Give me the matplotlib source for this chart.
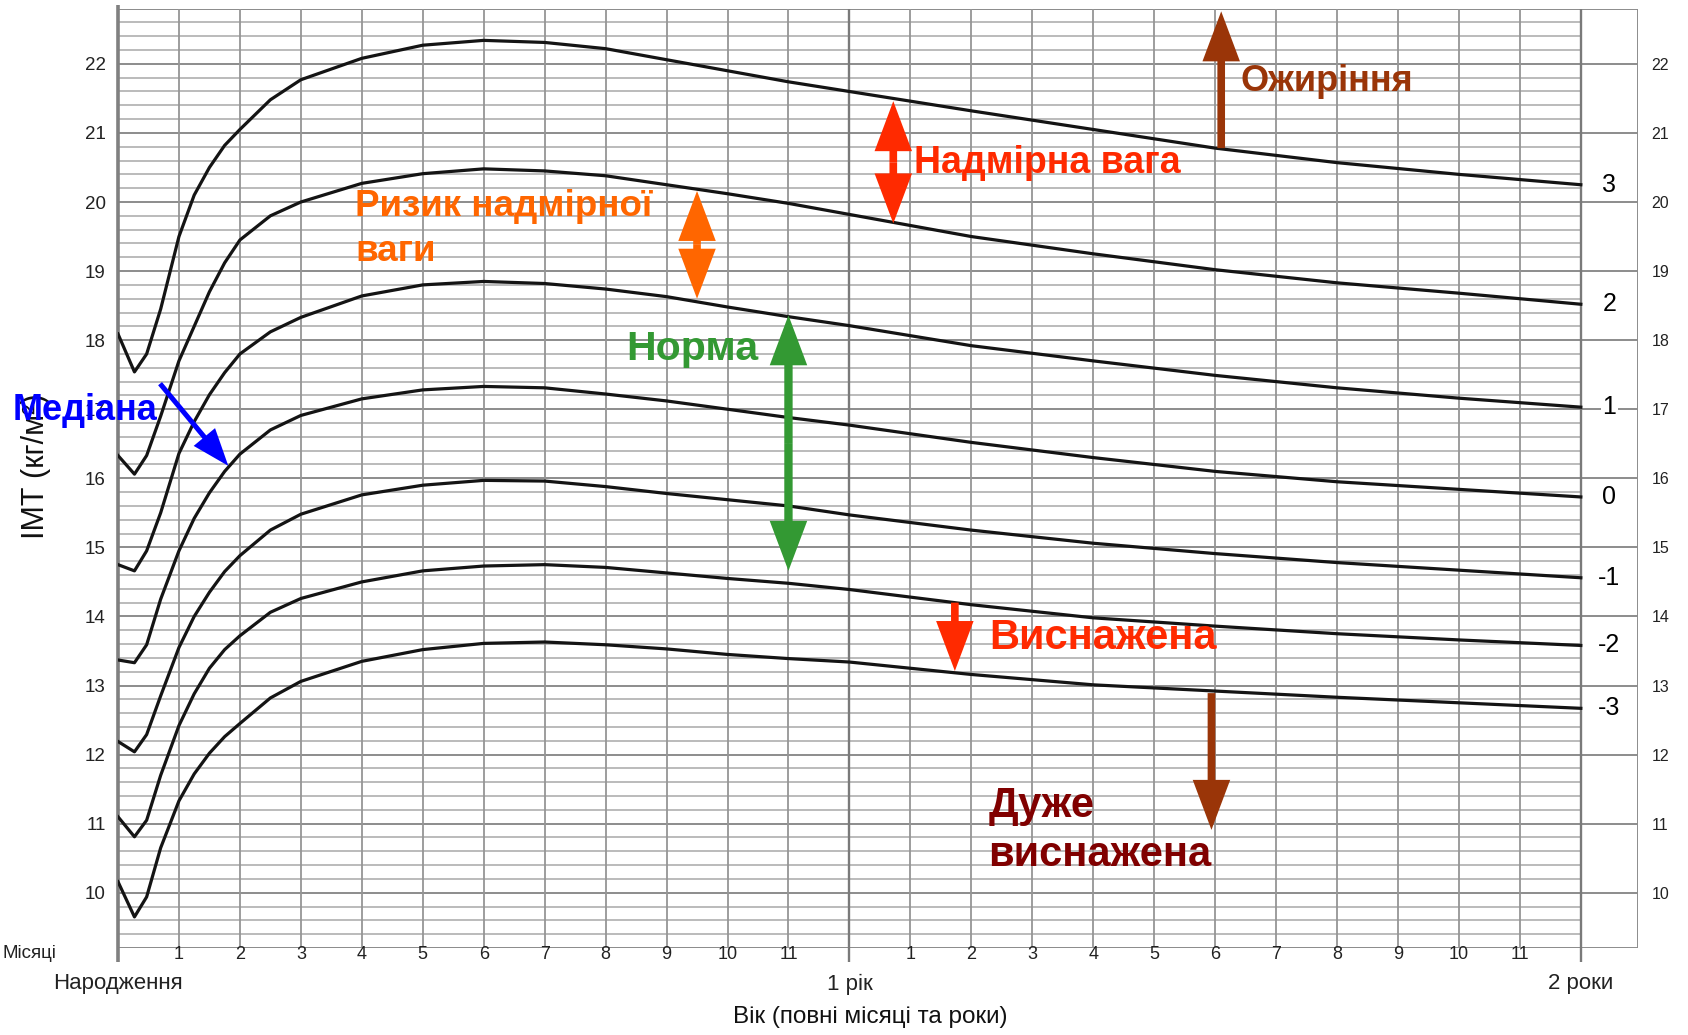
import matplotlib.pyplot as plt
from matplotlib.transforms import blended_transform_factory

plt.rcParams['font.family'] = ['Liberation Sans', 'DejaVu Sans']

# вік у місяцях, у яких знято значення кривих
months = [0, 0.27, 0.47, 0.7, 1, 1.25, 1.5, 1.75, 2, 2.5, 3, 4, 5, 6, 7, 8, 9, 10, 11, 12,
          14, 16, 18, 20, 22, 24]

# ІМТ (кг/м²) для кривих z-score
sd3 = [18.09, 17.54, 17.8, 18.45, 19.5, 20.1, 20.5, 20.82, 21.05, 21.48, 21.77, 22.08, 22.27,
       22.34, 22.31, 22.22, 22.06, 21.9, 21.74, 21.6, 21.32, 21.05, 20.78, 20.57, 20.4, 20.25]
sd2 = [16.33, 16.06, 16.33, 16.9, 17.7, 18.2, 18.7, 19.12, 19.45, 19.8, 20.0, 20.27, 20.41,
       20.48, 20.45, 20.38, 20.25, 20.12, 19.98, 19.82, 19.5, 19.25, 19.02, 18.83, 18.68, 18.52]
sd1 = [14.75, 14.66, 14.95, 15.5, 16.36, 16.82, 17.21, 17.53, 17.8, 18.12, 18.33, 18.64, 18.8,
       18.85, 18.82, 18.74, 18.63, 18.48, 18.34, 18.21, 17.92, 17.7, 17.49, 17.31, 17.16, 17.03]
sd0 = [13.37, 13.33, 13.59, 14.25, 14.95, 15.42, 15.79, 16.1, 16.35, 16.7, 16.91, 17.15, 17.28,
       17.33, 17.31, 17.22, 17.12, 17.0, 16.88, 16.77, 16.52, 16.3, 16.1, 15.95, 15.84, 15.73]
sdm1 = [12.19, 12.04, 12.29, 12.85, 13.55, 14.0, 14.35, 14.65, 14.88, 15.25, 15.48, 15.76, 15.9,
        15.97, 15.96, 15.88, 15.78, 15.69, 15.6, 15.47, 15.25, 15.06, 14.91, 14.78, 14.67, 14.56]
sdm2 = [11.1, 10.81, 11.05, 11.7, 12.42, 12.88, 13.25, 13.52, 13.72, 14.06, 14.26, 14.5, 14.66,
        14.73, 14.75, 14.71, 14.63, 14.55, 14.48, 14.39, 14.17, 13.98, 13.86, 13.75, 13.66, 13.58]
sdm3 = [10.16, 9.65, 9.94, 10.65, 11.33, 11.72, 12.02, 12.26, 12.45, 12.82, 13.06, 13.35, 13.52,
        13.61, 13.63, 13.59, 13.53, 13.45, 13.39, 13.34, 13.16, 13.01, 12.92, 12.83, 12.75, 12.67]

curves = [sd3, sd2, sd1, sd0, sdm1, sdm2, sdm3]
z_labels = ['3', '2', '1', '0', '-1', '-2', '-3']

bmi_ticks = list(range(10, 23))
month_ticks = [m for m in range(1, 24) if m != 12]
month_labels = [str(m % 12) for m in month_ticks]
year_ticks = [0, 12, 24]
year_labels = ['Народження', '1 рік', '2 роки']

W, H = 1688, 1035
fig = plt.figure(figsize=(W / 100, H / 100), dpi=100)
ax = fig.add_axes([118 / W, 1 - 948 / H, (1637.5 - 118) / W, (948 - 8.6) / H])
x_max, y_min, y_max = 24.93, 9.2, 22.8
ax.set_xlim(0, x_max)
ax.set_ylim(y_min, y_max)
for s in ax.spines.values():
    s.set_visible(False)
ax.set_xticks([])

# сітка
minor = [round(y_min + 0.2 * i, 1) for i in range(69)]
minor = [v for v in minor if abs(v - round(v)) > 0.01]
ax.hlines(minor, 0, 24, color='#a8a8a8', lw=1.1, zorder=1)
ax.hlines(bmi_ticks + [y_min, y_max], 0, x_max, color='#8c8c8c', lw=1.4, zorder=1)
ax.vlines([m for m in range(1, 24) if m != 12], y_min, y_max, color='#959595', lw=1.3, zorder=1)
ax.vlines([12, 24], y_min - 0.2, y_max, color='#7a7a7a', lw=1.7, zorder=1, clip_on=False)
ax.vlines([0], y_min - 0.2, y_max + 0.05, color='#808080', lw=2.6, zorder=2, clip_on=False)
ax.vlines([x_max], y_min, y_max, color='#8c8c8c', lw=1.4, zorder=1)

# криві
for vals, z in zip(curves, z_labels):
    ax.plot(months, vals, color='#141414', lw=2.3, zorder=3, solid_joinstyle='round')
    ax.text(24.47, vals[-1], z, fontsize=18, ha='center', va='center', zorder=4,
            bbox=dict(facecolor='white', edgecolor='none', pad=1.5))

# підписи осей
ax.set_yticks(bmi_ticks)
ax.tick_params(axis='y', length=0, pad=9, labelsize=13.5, labelcolor='#222222')
ax2 = ax.twinx()
ax2.set_ylim(y_min, y_max)
ax2.set_yticks(bmi_ticks)
ax2.tick_params(axis='y', length=0, pad=10, labelsize=11.5, labelcolor='#222222')
for s in ax2.spines.values():
    s.set_visible(False)

tr = blended_transform_factory(ax.transData, ax.transAxes)
for m, lab in zip(month_ticks, month_labels):
    ax.text(m, -0.0064, lab, transform=tr, ha='center', va='center', fontsize=13, color='#222222')
for m, lab in zip(year_ticks, year_labels):
    ax.text(m, -0.0383, lab, transform=tr, ha='center', va='center', fontsize=16, color='#222222')
fig.text(3 / W, 1 - 954 / H, 'Місяці', ha='left', va='center', fontsize=13.5, color='#222222')
fig.text(870 / W, 1 - 1017 / H, 'Вік (повні місяці та роки)', ha='center', va='center',
         fontsize=17.5, color='#111111')
fig.text(36 / W, 0.55, 'ІМТ (кг/м²)', rotation=90, ha='center', va='center',
         fontsize=22, color='#111111')


def arrow(x0, y0, x1, y1, color, hl=36, hw=27, tw=5.5):
    ax.annotate('', xy=(x1, y1), xytext=(x0, y0), zorder=6,
                arrowprops=dict(arrowstyle=f'simple,head_length={hl},head_width={hw},tail_width={tw}',
                                color=color, lw=0, shrinkA=0, shrinkB=0, mutation_scale=1))


def double_arrow(x, y_top, y_bot, color, **kw):
    mid = (y_top + y_bot) / 2
    arrow(x, mid, x, y_top, color, **kw)
    arrow(x, mid, x, y_bot, color, **kw)


brown = '#9a3508'
red = '#ff2a00'
orange = '#ff6600'
green = '#339933'

arrow(18.1, 20.78, 18.1, 22.76, brown)
ax.text(18.42, 21.74, 'Ожиріння', color=brown, fontsize=26, fontweight='bold', va='center', zorder=6)

double_arrow(12.72, 21.46, 19.69, red)
ax.text(13.06, 20.56, 'Надмірна вага', color=red, fontsize=27, fontweight='bold', va='center', zorder=6)

double_arrow(9.5, 20.16, 18.6, orange)
ax.text(3.89, 19.61, 'Ризик надмірної\nваги', color=orange, fontsize=26.5, fontweight='bold',
        va='center', linespacing=1.4, zorder=6)

double_arrow(11.0, 18.36, 14.66, green, tw=6)
ax.text(8.34, 17.87, 'Норма', color=green, fontsize=29.5, fontweight='bold', va='center', zorder=6)

arrow(13.73, 14.2, 13.73, 13.21, red)
ax.text(14.29, 13.69, 'Виснажена', color=red, fontsize=30, fontweight='bold', va='center', zorder=6)

arrow(17.94, 12.89, 17.94, 10.91, brown)
ax.text(14.28, 10.9, 'Дуже\nвиснажена', color='#800000', fontsize=30, fontweight='bold',
        va='center', linespacing=1.27, zorder=6)

arrow(0.69, 17.37, 1.81, 16.18, '#0000ff', hl=27, hw=20, tw=3.6)
fig.text(13 / W, 1 - 410 / H, 'Медіана', ha='left', va='center', color='#0000ff',
         fontsize=26, fontweight='bold')

fig.savefig('out.png', dpi=100)
